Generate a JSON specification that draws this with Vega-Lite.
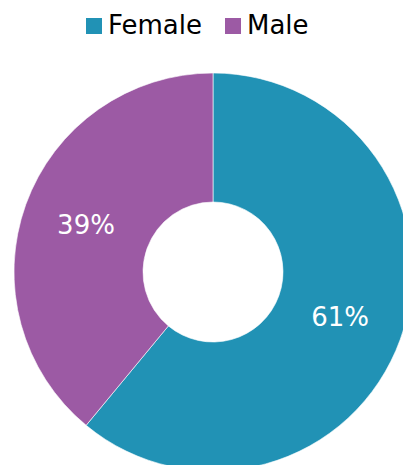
{
  "$schema": "https://vega.github.io/schema/vega-lite/v6.json",
  "autosize": "none",
  "padding": 0,
  "width": 426,
  "height": 544,
  "background": "white",
  "view": {"stroke": null},
  "data": {"values": [
    {"gender": "Female", "value": 61, "label": "61%"},
    {"gender": "Male", "value": 39, "label": "39%"}
  ]},
  "encoding": {
    "theta": {"field": "value", "type": "quantitative", "stack": true},
    "color": {
      "field": "gender", "type": "nominal",
      "scale": {"domain": ["Female", "Male"], "range": ["#2192b5", "#9c5aa4"]},
      "legend": {
        "title": null, "orient": "none", "direction": "horizontal",
        "legendX": 81, "legendY": 13, "padding": 0,
        "symbolType": "square", "symbolSize": 256, "symbolStrokeWidth": 0,
        "labelFont": "DejaVu Sans", "labelFontSize": 26, "labelColor": "#000000",
        "labelOffset": 1, "columnPadding": 17
      }
    },
    "order": {"field": "gender", "sort": "ascending"}
  },
  "layer": [
    {"mark": {"type": "arc", "outerRadius": 199, "innerRadius": 70, "stroke": "#ffffff", "strokeWidth": 0.6}},
    {"mark": {"type": "text", "radius": 135, "font": "DejaVu Sans", "fontSize": 26, "fill": "#ffffff", "align": "center", "baseline": "middle"},
     "encoding": {"text": {"field": "label"}, "color": {"value": "#ffffff"}}}
  ]
}
